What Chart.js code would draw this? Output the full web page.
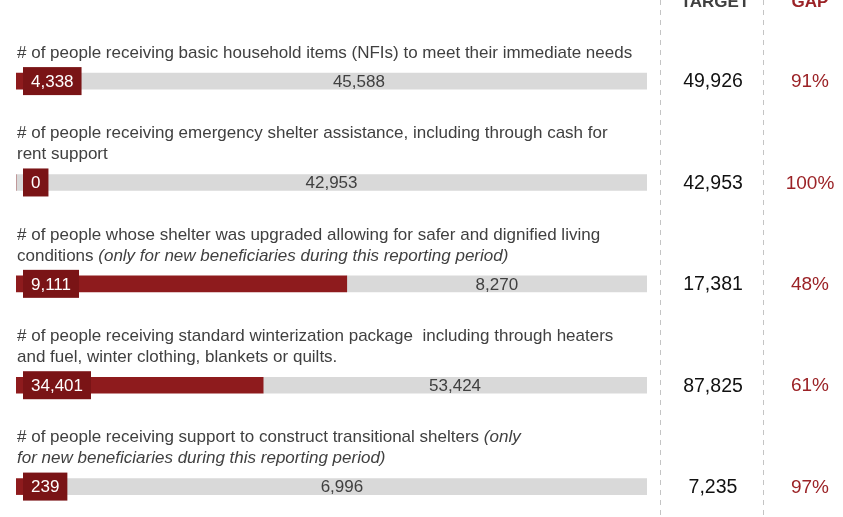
<!DOCTYPE html>
<html>
<head>
<meta charset="utf-8">
<script src="https://cdn.jsdelivr.net/npm/chart.js@4.4.1/dist/chart.umd.min.js"></script>
<style>
  html, body { margin: 0; padding: 0; background: #fff; }
  #wrap { width: 843px; height: 517px; position: relative; }
</style>
</head>
<body>
<div id="wrap"><canvas id="shelterChart"></canvas></div>
<script>
// DATI
const indicators = [
  ['# of people receiving basic household items (NFIs) to meet their immediate needs'],
  ['# of people receiving emergency shelter assistance, including through cash for', 'rent support'],
  ['# of people whose shelter was upgraded allowing for safer and dignified living', 'conditions _(only for new beneficiaries during this reporting period)_'],
  ['# of people receiving standard winterization package  including through heaters', 'and fuel, winter clothing, blankets or quilts.'],
  ['# of people receiving support to construct transitional shelters _(only_', '_for new beneficiaries during this reporting period)_']
];
const reached = [4338, 0, 9111, 34401, 239];
const remaining = [45588, 42953, 8270, 53424, 6996];
const targets = [49926, 42953, 17381, 87825, 7235];
const gaps = [91, 100, 48, 61, 97];
const headers = ['TARGET', 'GAP'];

const RED = '#8e1b1d';
const RED_BOX = '#7a1416';
const GREY = '#d9d9d9';
const TEXT = '#404040';
const FONT = "'Liberation Sans', Arial, sans-serif";

const fmt = n => n.toLocaleString('en-US');

// percentuali per ogni riga (ogni barra e' scalata sul proprio target)
const reachedPct = reached.map((v, i) => v / targets[i] * 100);
const remainingPct = remaining.map((v, i) => v / targets[i] * 100);

// TESTI, ETICHETTE E COLONNE
const overlayPlugin = {
  id: 'overlay',
  afterDatasetsDraw(chart) {
    const ctx = chart.ctx;
    const area = chart.chartArea;
    const redMeta = chart.getDatasetMeta(0);
    const greyMeta = chart.getDatasetMeta(1);
    const targetX = 713, gapX = 810;

    ctx.save();

    // linee tratteggiate
    ctx.strokeStyle = '#c4c4c4';
    ctx.lineWidth = 1;
    ctx.setLineDash([5, 5]);
    [660.5, 763.5].forEach(x => {
      ctx.beginPath();
      ctx.moveTo(x, 0);
      ctx.lineTo(x, chart.height);
      ctx.stroke();
    });
    ctx.setLineDash([]);

    // intestazioni
    ctx.font = 'bold 17px ' + FONT;
    ctx.textAlign = 'center';
    ctx.textBaseline = 'alphabetic';
    ctx.fillStyle = TEXT;
    ctx.fillText(headers[0], targetX + 2, 7);
    ctx.fillStyle = '#9b2226';
    ctx.fillText(headers[1], gapX, 7);

    redMeta.data.forEach((bar, i) => {
      const y = bar.y;

      // testo indicatore
      const lines = indicators[i];
      ctx.textAlign = 'left';
      ctx.textBaseline = 'middle';
      ctx.fillStyle = TEXT;
      lines.forEach((line, li) => {
        const ly = y - 28 - (lines.length - 1 - li) * 21;
        let x = 17;
        line.split('_').forEach((part, pi) => {
          ctx.font = (pi % 2 ? 'italic ' : '') + '17px ' + FONT;
          ctx.fillText(part, x, ly);
          x += ctx.measureText(part).width;
        });
      });

      // box valore raggiunto
      ctx.font = '17px ' + FONT;
      const label = fmt(reached[i]);
      const w = ctx.measureText(label).width + 16;
      const bx = area.left + 7;
      ctx.fillStyle = RED_BOX;
      ctx.fillRect(bx, y - 14, w, 28);
      ctx.fillStyle = '#fff';
      ctx.textAlign = 'center';
      ctx.fillText(label, bx + w / 2, y + 1);

      // valore mancante
      const g = greyMeta.data[i];
      ctx.fillStyle = TEXT;
      ctx.fillText(fmt(remaining[i]), (g.x + g.base) / 2, y + 1);

      // target e gap
      ctx.font = '19.5px ' + FONT;
      ctx.fillStyle = '#111';
      ctx.fillText(fmt(targets[i]), targetX, y + 1);
      ctx.font = '19px ' + FONT;
      ctx.fillStyle = '#9b2226';
      ctx.fillText(gaps[i] + '%', gapX, y + 1);
    });

    ctx.restore();
  }
};

new Chart(document.getElementById('shelterChart'), {
  type: 'bar',
  data: {
    datasets: [
      {
        data: reachedPct.map((v, i) => ({ x: v, y: i })),
        backgroundColor: RED,
        barThickness: 16
      },
      {
        data: remainingPct.map((v, i) => ({ x: v, y: i })),
        backgroundColor: GREY,
        barThickness: 16
      }
    ]
  },
  options: {
    indexAxis: 'y',
    responsive: true,
    maintainAspectRatio: false,
    animation: false,
    layout: { padding: { left: 16, right: 196, top: 0, bottom: 0 } },
    plugins: { legend: { display: false }, tooltip: { enabled: false } },
    scales: {
      x: { display: false, stacked: true, min: 0, max: 100 },
      y: { type: 'linear', display: false, stacked: true, reverse: true, offset: false, min: -0.8, max: 4.3 }
    }
  },
  plugins: [overlayPlugin]
});
</script>
</body>
</html>
